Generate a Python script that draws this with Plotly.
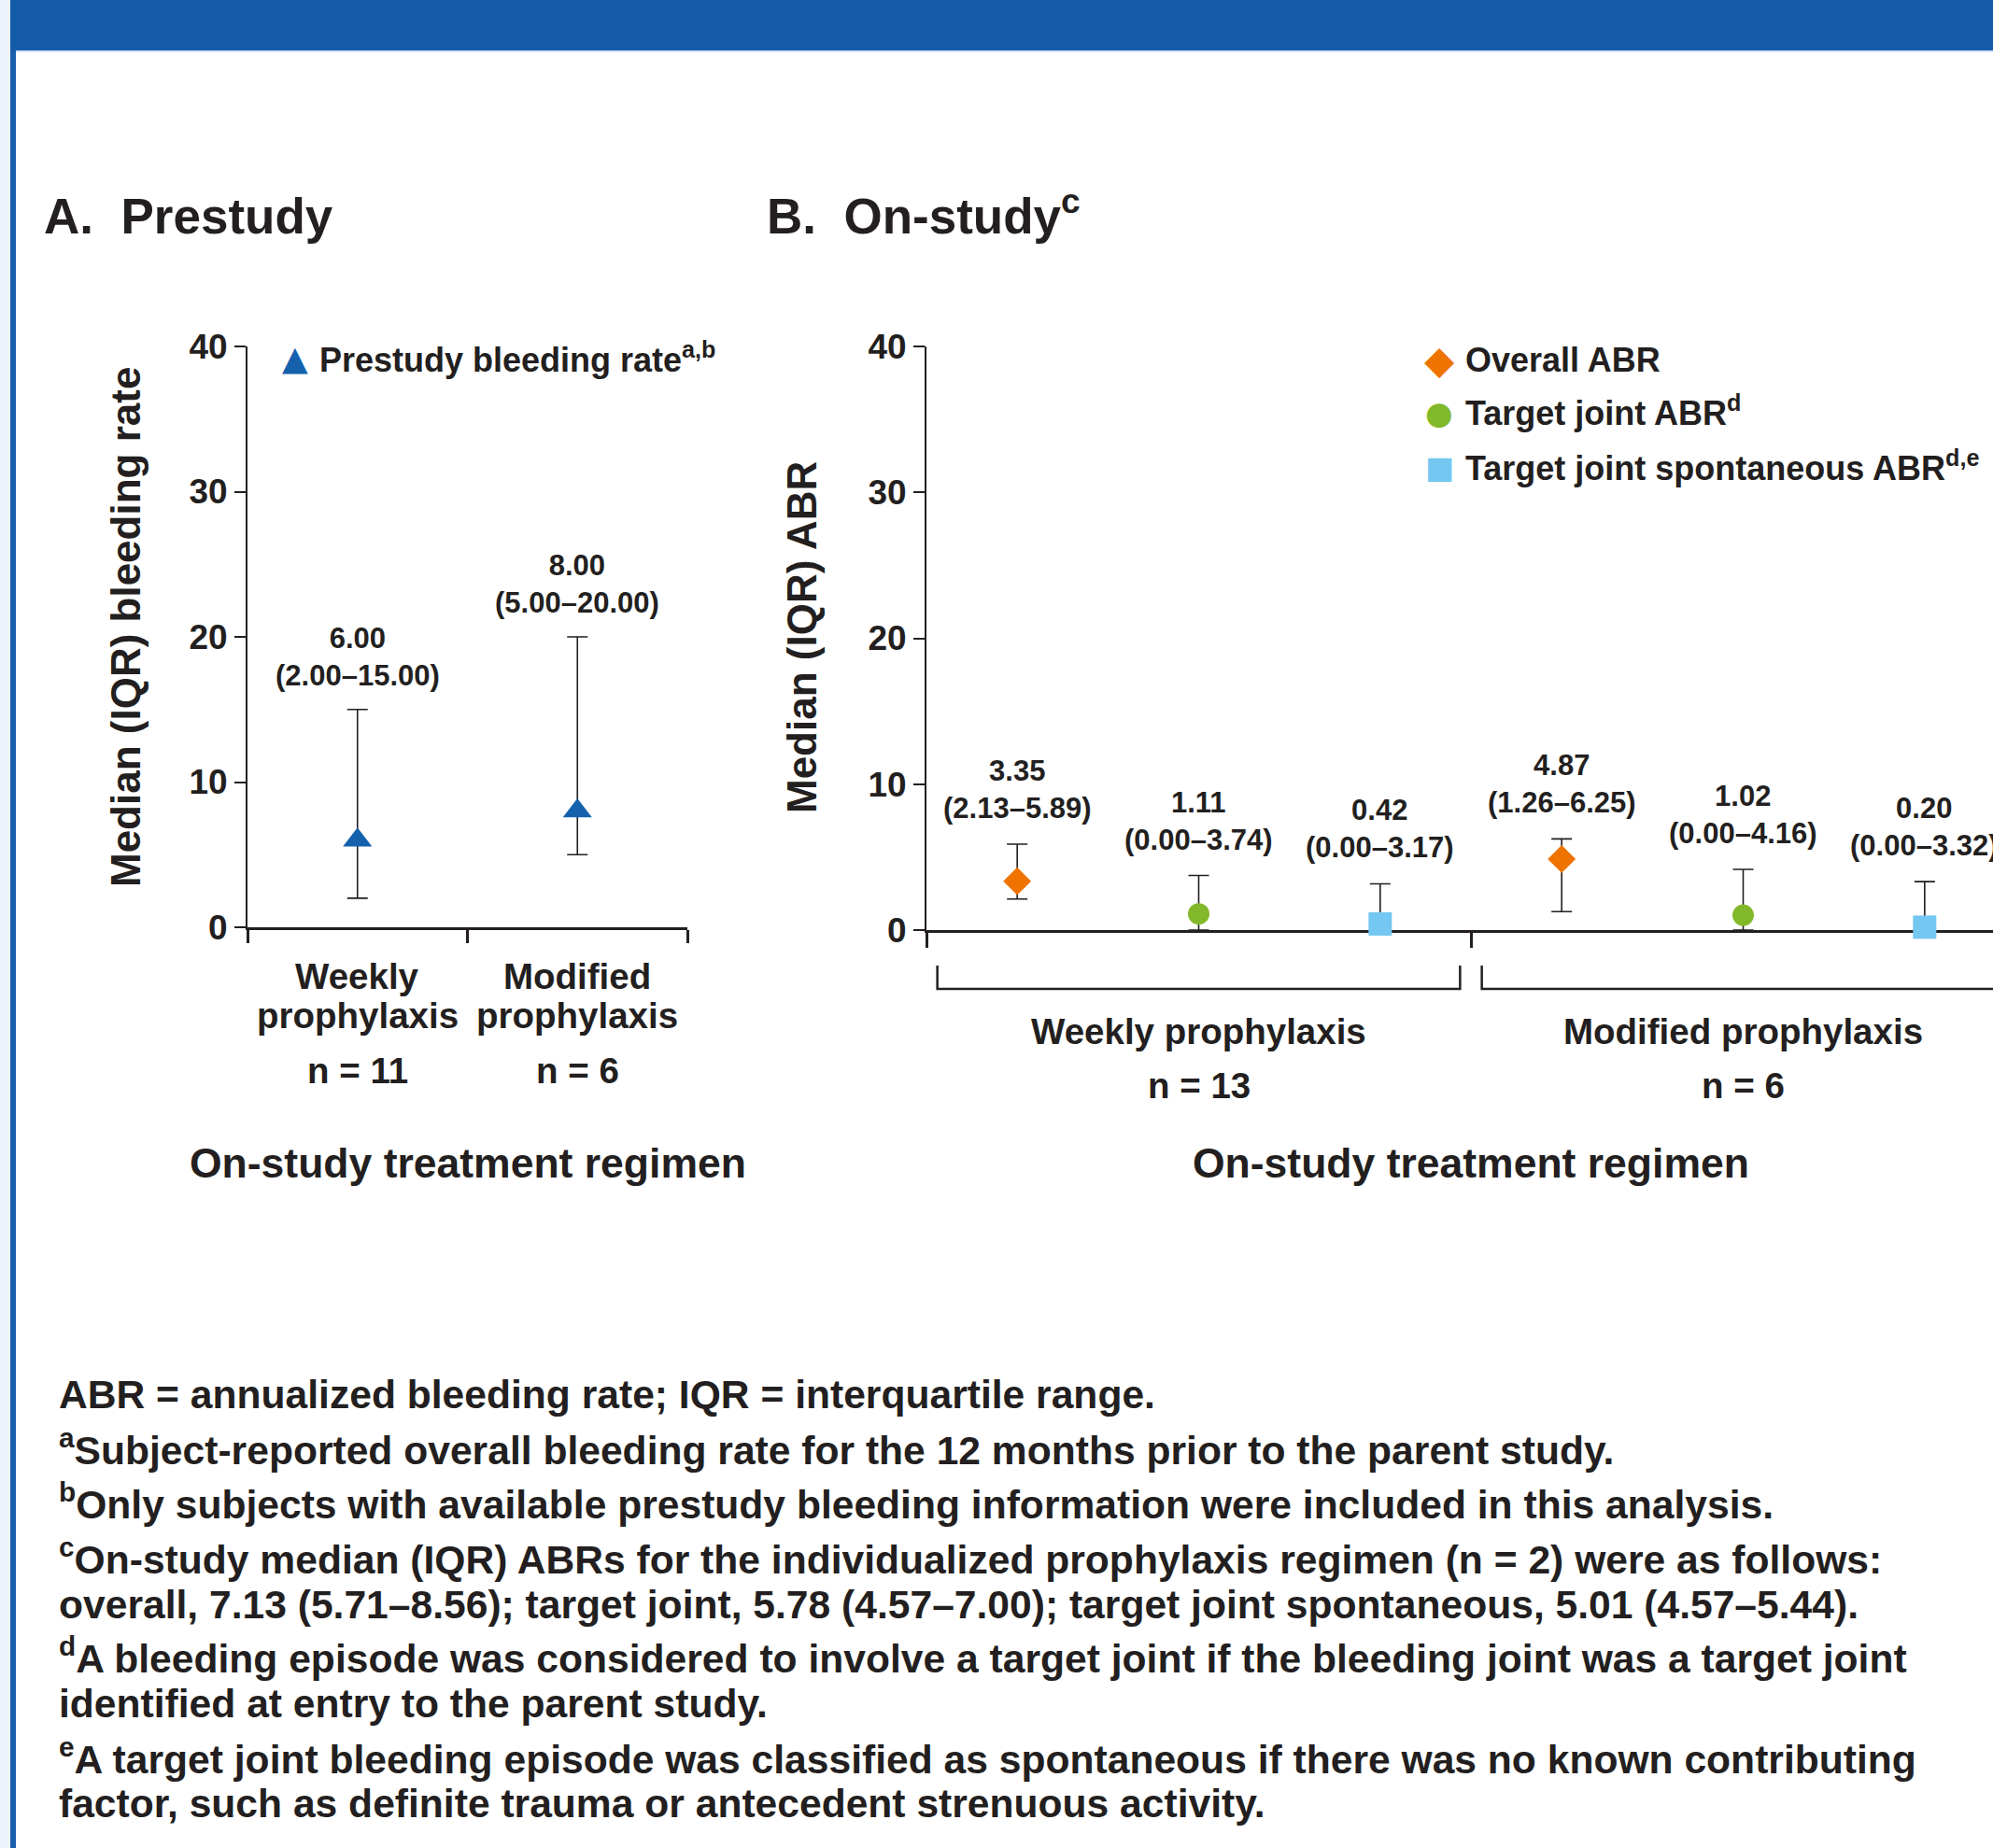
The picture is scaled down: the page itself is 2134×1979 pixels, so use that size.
import plotly.graph_objects as go

W, H = 2134, 1979

# ---------------- data ----------------
# Panel A: prestudy bleeding rate
a_categories = ["Weekly prophylaxis", "Modified prophylaxis"]
a_label_line1 = ["Weekly", "Modified"]
a_label_line2 = ["prophylaxis", "prophylaxis"]
a_n = ["n = 11", "n = 6"]
a_median = [6.00, 8.00]
a_q1 = [2.00, 5.00]
a_q3 = [15.00, 20.00]

# Panel B: on-study ABR
b_groups = ["Weekly prophylaxis", "Modified prophylaxis"]
b_n = ["n = 13", "n = 6"]
b_series = ["Overall ABR", "Target joint ABR<sup>d</sup>",
            "Target joint spontaneous ABR<sup>d,e</sup>"]
overall_median = [3.35, 4.87]
overall_q1 = [2.13, 1.26]
overall_q3 = [5.89, 6.25]
joint_median = [1.11, 1.02]
joint_q1 = [0.00, 0.00]
joint_q3 = [3.74, 4.16]
spont_median = [0.42, 0.20]
spont_q1 = [0.00, 0.00]
spont_q3 = [3.17, 3.32]

y_ticks = [0, 10, 20, 30, 40]

footnotes = [
    "ABR = annualized bleeding rate; IQR = interquartile range.",
    "<sup>a</sup>Subject-reported overall bleeding rate for the 12 months prior to the parent study.",
    "<sup>b</sup>Only subjects with available prestudy bleeding information were included in this analysis.",
    "<sup>c</sup>On-study median (IQR) ABRs for the individualized prophylaxis regimen (n = 2) were as follows:",
    "overall, 7.13 (5.71–8.56); target joint, 5.78 (4.57–7.00); target joint spontaneous, 5.01 (4.57–5.44).",
    "<sup>d</sup>A bleeding episode was considered to involve a target joint if the bleeding joint was a target joint",
    "identified at entry to the parent study.",
    "<sup>e</sup>A target joint bleeding episode was classified as spontaneous if there was no known contributing",
    "factor, such as definite trauma or antecedent strenuous activity.",
]

# ---------------- style ----------------
INK = "#231F20"
FONT = "Liberation Sans, Arial, Helvetica, sans-serif"
SYMFONT = "DejaVu Sans, sans-serif"
BLUE_TRI = "#1561AE"
COLORS = ["#EF7300", "#82B92A", "#74C7F0"]
SYMBOLS = ["diamond", "circle", "square"]
SIZES = [23, 23, 25]
GLYPHS = ["◆", "●", "■"]
GLYPH_SIZES = [42, 34, 33]
BANNER = "#145CAA"


def px(x):
    return x / W


def py(y):
    return 1 - y / H


def font(size, color=INK):
    return dict(family=FONT, size=size, color=color, weight="bold")


fig = go.Figure()

# ---------------- Panel A traces ----------------
a_x = [i + 0.5 for i in range(len(a_categories))]
fig.add_trace(go.Scatter(
    x=a_x, y=a_median, mode="markers", xaxis="x", yaxis="y",
    marker=dict(symbol="triangle-up", size=27, color=BLUE_TRI),
    error_y=dict(type="data", symmetric=False,
                 array=[h - m for h, m in zip(a_q3, a_median)],
                 arrayminus=[m - l for m, l in zip(a_median, a_q1)],
                 color=INK, thickness=1.6, width=11),
    cliponaxis=False, showlegend=False, hoverinfo="skip"))

# ---------------- Panel B traces ----------------
b_data = [(overall_median, overall_q1, overall_q3),
          (joint_median, joint_q1, joint_q3),
          (spont_median, spont_q1, spont_q3)]
for s, (med, lo, hi) in enumerate(b_data):
    xs = [3 * g + s + 0.5 for g in range(len(b_groups))]
    fig.add_trace(go.Scatter(
        x=xs, y=med, mode="markers", xaxis="x2", yaxis="y2",
        marker=dict(symbol=SYMBOLS[s], size=SIZES[s], color=COLORS[s]),
        error_y=dict(type="data", symmetric=False,
                     array=[h - m for h, m in zip(hi, med)],
                     arrayminus=[m - l for m, l in zip(med, lo)],
                     color=INK, thickness=1.6, width=11),
        cliponaxis=False, showlegend=False, hoverinfo="skip"))

annotations = []


def ann(text, x, y, size, xref="paper", yref="paper", xanchor="center",
        yanchor="middle", color=INK, family=FONT, **kw):
    annotations.append(dict(text=text, x=x, y=y, xref=xref, yref=yref,
                            xanchor=xanchor, yanchor=yanchor, showarrow=False,
                            font=dict(family=family, size=size, color=color, weight="bold"),
                            **kw))


LABEL_SHIFT = 17
# data labels A
for x, m, l, h in zip(a_x, a_median, a_q1, a_q3):
    ann(f"{m:.2f}<br>({l:.2f}–{h:.2f})", x, h, 31, xref="x", yref="y",
        yanchor="bottom", yshift=LABEL_SHIFT)
# data labels B
for s, (med, lo, hi) in enumerate(b_data):
    for g in range(len(b_groups)):
        ann(f"{med[g]:.2f}<br>({lo[g]:.2f}–{hi[g]:.2f})", 3 * g + s + 0.5, hi[g], 31,
            xref="x2", yref="y2", yanchor="bottom", yshift=LABEL_SHIFT + 2)

# category labels A
for x, l1, l2, n in zip(a_x, a_label_line1, a_label_line2, a_n):
    ann(l1, x, py(1045), 38.5, xref="x")
    ann(l2, x, py(1087), 38.5, xref="x")
    ann(n, x, py(1146), 38.5, xref="x")
ann("On-study treatment regimen", len(a_categories) / 2, py(1245), 44.5, xref="x")

# category labels B
for g, (name, n) in enumerate(zip(b_groups, b_n)):
    ann(name, 3 * g + 1.5, py(1104), 38.5, xref="x2")
    ann(n, 3 * g + 1.5, py(1162), 38.5, xref="x2")
ann("On-study treatment regimen", len(b_groups) * 3 / 2, py(1245), 44.5, xref="x2")

# axis titles
ann("Median (IQR) bleeding rate", px(134), py(672), 44, textangle=-90)
ann("Median (IQR) ABR", px(858), py(683), 44, textangle=-90)

# panel titles
ann("A.\u00a0 Prestudy", px(45), py(231), 53, xanchor="left")
ann("B.\u00a0 On-study<sup>c</sup>", px(819), py(231), 53, xanchor="left", yshift=4)

# legend A
ann("▲", px(316), py(384), 36, color=BLUE_TRI, family=SYMFONT)
ann("Prestudy bleeding rate<sup>a,b</sup>", px(340), py(385), 36, xanchor="left", yshift=2)

# legend B
for s, (yy, name) in enumerate(zip([385, 442, 501], b_series)):
    ann(GLYPHS[s], px(1541), py(yy), GLYPH_SIZES[s], color=COLORS[s], family=SYMFONT)
    ann(name, px(1567), py(yy), 36, xanchor="left",
        yshift=2 if "<sup>" in name else 0)

# footnotes
for yy, text in zip([1493, 1553, 1611, 1670, 1718, 1776, 1824, 1884, 1931], footnotes):
    ann(text, px(61), py(yy), 42.6, xanchor="left",
        yshift=3 if text.startswith("<sup>") else 0)

# ---------------- shapes ----------------
shapes = [
    dict(type="rect", xref="paper", yref="paper", x0=0, x1=px(11), y0=0, y1=1,
         fillcolor="#EEF2FA", line=dict(width=0), layer="below"),
    dict(type="rect", xref="paper", yref="paper", x0=px(11), x1=px(17), y0=0, y1=1,
         fillcolor="#1A5EAB", line=dict(width=0), layer="below"),
    dict(type="rect", xref="paper", yref="paper", x0=px(11), x1=1, y0=py(54), y1=1,
         fillcolor=BANNER, line=dict(width=0), layer="below"),
    dict(type="rect", xref="paper", yref="paper", x0=px(17), x1=1, y0=py(56), y1=py(54),
         fillcolor="#D5E2F2", line=dict(width=0), layer="below"),
]
# group brackets under panel B axis
for g in range(len(b_groups)):
    x0, x1 = 3 * g + 0.06, 3 * g + 3 - 0.06
    shapes.append(dict(
        type="path", xref="x2", yref="paper",
        path=f"M {x0},{py(1034)} L {x0},{py(1059)} L {x1},{py(1059)} L {x1},{py(1034)}",
        line=dict(color=INK, width=2.5)))

axis_common = dict(showgrid=False, zeroline=False, showline=True, linecolor=INK,
                   ticks="outside", tickcolor=INK, layer="below traces",
                   automargin=False)

fig.update_layout(
    width=W, height=H, autosize=False,
    margin=dict(l=0, r=0, t=0, b=0, pad=0, autoexpand=False),
    paper_bgcolor="white", plot_bgcolor="rgba(0,0,0,0)",
    showlegend=False,
    xaxis=dict(domain=[px(265), px(736)], range=[0, len(a_categories)],
               tickvals=list(range(len(a_categories) + 1)), showticklabels=False,
               ticklen=14, tickwidth=2.5, linewidth=2.5, anchor="y", **axis_common),
    yaxis=dict(domain=[py(993), py(371)], range=[0, 40], tickvals=y_ticks,
               ticklen=12, tickwidth=2, linewidth=2, anchor="x",
               tickfont=font(37), **axis_common),
    xaxis2=dict(domain=[px(992), 1], range=[0, 3 * (W - 992) / 583],
                tickvals=[3 * g for g in range(len(b_groups) + 1)], showticklabels=False,
                ticklen=16, tickwidth=2.5, linewidth=2.5, anchor="y2", **axis_common),
    yaxis2=dict(domain=[py(996), py(371)], range=[0, 40], tickvals=y_ticks,
                ticklen=12, tickwidth=2, linewidth=2, anchor="x2",
                tickfont=font(37), **axis_common),
    annotations=annotations,
    shapes=shapes,
)

fig.write_html("out.html", config={"displayModeBar": False},
               post_script="document.body.style.margin='0px';")
